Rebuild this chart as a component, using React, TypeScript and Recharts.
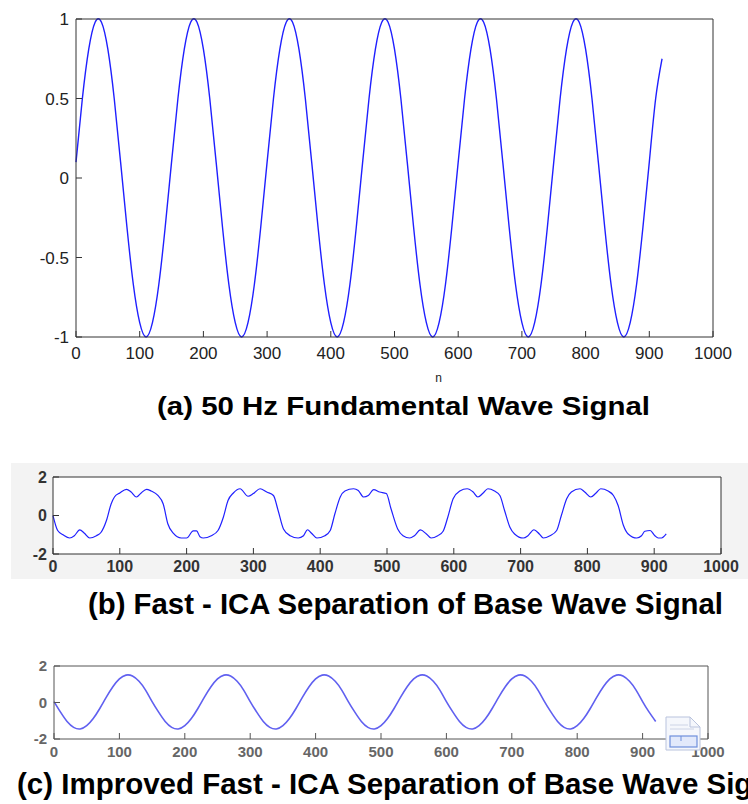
import React from 'react';
import { LineChart, Line, XAxis, YAxis, CartesianGrid } from 'recharts';

// sample index n used by panels (a) and (c)
const sampleN = [
  0, 10, 20, 30, 40, 50, 60, 70, 80, 90, 100, 110, 120, 130, 140, 150, 160, 170, 180, 190,
  200, 210, 220, 230, 240, 250, 260, 270, 280, 290, 300, 310, 320, 330, 340, 350, 360, 370, 380, 390,
  400, 410, 420, 430, 440, 450, 460, 470, 480, 490, 500, 510, 520, 530, 540, 550, 560, 570, 580, 590,
  600, 610, 620, 630, 640, 650, 660, 670, 680, 690, 700, 710, 720, 730, 740, 750, 760, 770, 780, 790,
  800, 810, 820, 830, 840, 850, 860, 870, 880, 890, 900, 910, 920,
];

// (a) 50 Hz fundamental
const fundamental = [
  0.1, 0.5, 0.81, 0.98, 0.98, 0.81, 0.5, 0.1, -0.31, -0.67, -0.91, -1, -0.91, -0.67, -0.31,
  0.1, 0.5, 0.81, 0.98, 0.98, 0.81, 0.5, 0.1, -0.31, -0.67, -0.91, -1, -0.91, -0.67, -0.31,
  0.1, 0.5, 0.81, 0.98, 0.98, 0.81, 0.5, 0.1, -0.31, -0.67, -0.91, -1, -0.91, -0.67, -0.31,
  0.1, 0.5, 0.81, 0.98, 0.98, 0.81, 0.5, 0.1, -0.31, -0.67, -0.91, -1, -0.91, -0.67, -0.31,
  0.1, 0.5, 0.81, 0.98, 0.98, 0.81, 0.5, 0.1, -0.31, -0.67, -0.91, -1, -0.91, -0.67, -0.31,
  0.1, 0.5, 0.81, 0.98, 0.98, 0.81, 0.5, 0.1, -0.31, -0.67, -0.91, -1, -0.91, -0.67, -0.31,
  0.1, 0.5, 0.75,
];

// (b) Fast-ICA separated base wave (irregular sample points)
const fastN = [
  0, 7, 15, 25, 32, 40, 47, 55, 65, 72, 80, 87, 92, 100, 110, 117, 125, 132, 140, 147,
  157, 165, 172, 180, 192, 200, 210, 215, 220, 225, 237, 247, 255, 262, 270, 280, 292, 300, 310, 320,
  330, 337, 345, 355, 367, 375, 381, 387, 395, 407, 415, 422, 430, 437, 450, 457, 465, 472, 480, 489,
  499, 506, 516, 524, 534, 541, 550, 559, 566, 576, 584, 591, 599, 609, 620, 629, 636, 644, 651, 661,
  669, 676, 684, 691, 704, 711, 720, 728, 734, 744, 754, 761, 769, 776, 789, 796, 805, 813, 820, 831,
  839, 846, 854, 861, 874, 881, 886, 894, 901, 906, 911, 918,
];
const fastVal = [
  0, -0.78, -1.0, -1.17, -1.05, -0.75, -0.92, -1.17, -1.05, -0.87, -0.26, 0.6, 0.96, 1.17, 1.36, 1.22, 0.96, 1.17, 1.36, 1.27,
  1.04, 0.6, -0.44, -0.92, -1.17, -1.17, -0.8, -0.8, -1.1, -1.17, -1.05, -0.78, -0.09, 0.78, 1.17, 1.39, 1.0, 1.14, 1.39, 1.22,
  1.04, 0.26, -0.7, -1.05, -1.17, -1.05, -0.74, -0.92, -1.17, -1.05, -0.78, 0.09, 0.96, 1.27, 1.39, 1.3, 0.96, 1.04, 1.34, 1.22,
  1.14, 0.35, -0.7, -1.05, -1.17, -1.05, -0.75, -0.96, -1.17, -1.05, -0.82, -0.09, 0.87, 1.27, 1.39, 1.22, 0.96, 1.17, 1.39, 1.27,
  1.04, 0.26, -0.61, -0.96, -1.17, -1.05, -0.74, -0.96, -1.17, -1.05, -0.78, 0, 0.87, 1.22, 1.39, 1.22, 0.96, 1.17, 1.39, 1.27,
  1.04, 0.52, -0.52, -0.96, -1.17, -1.05, -0.82, -0.78, -1.05, -1.17, -1.17, -0.96,
];

// (c) improved Fast-ICA
const improved = [
  0.05, -0.53, -1.04, -1.36, -1.45, -1.27, -0.88, -0.33, 0.29, 0.86, 1.29, 1.5, 1.45, 1.16, 0.68,
  0.05, -0.53, -1.04, -1.36, -1.45, -1.27, -0.88, -0.33, 0.29, 0.86, 1.29, 1.5, 1.45, 1.16, 0.68,
  0.05, -0.53, -1.04, -1.36, -1.45, -1.27, -0.88, -0.33, 0.29, 0.86, 1.29, 1.5, 1.45, 1.16, 0.68,
  0.05, -0.53, -1.04, -1.36, -1.45, -1.27, -0.88, -0.33, 0.29, 0.86, 1.29, 1.5, 1.45, 1.16, 0.68,
  0.05, -0.53, -1.04, -1.36, -1.45, -1.27, -0.88, -0.33, 0.29, 0.86, 1.29, 1.5, 1.45, 1.16, 0.68,
  0.05, -0.53, -1.04, -1.36, -1.45, -1.27, -0.88, -0.33, 0.29, 0.86, 1.29, 1.5, 1.45, 1.16, 0.68,
  0.05, -0.53, -1.04,
];

const nTicks = [0, 100, 200, 300, 400, 500, 600, 700, 800, 900, 1000];
const yTicksA = [-1, -0.5, 0, 0.5, 1];
const yTicksBC = [-2, 0, 2];

const titleA = '(a) 50 Hz Fundamental Wave Signal';
const titleB = '(b) Fast - ICA Separation of Base Wave Signal';
const titleC = '(c) Improved Fast - ICA Separation of Base Wave Signal';

const FONT = '"Liberation Sans", Arial, Helvetica, sans-serif';

const dataA = sampleN.map((n, i) => ({ n, v: fundamental[i] }));
const dataB = fastN.map((n, i) => ({ n, v: fastVal[i] }));
const dataC = sampleN.map((n, i) => ({ n, v: improved[i] }));

interface PanelProps {
  data: { n: number; v: number }[];
  width: number;
  height: number;
  top: number;
  leftW: number;
  rightW: number;
  xAxisH: number;
  bottom: number;
  yDomain: [number, number];
  yTicks: number[];
  color: string;
  strokeWidth: number;
  curve: 'natural' | 'monotone' | 'linear';
  frame: string;
  tickColor: string;
  tickSize: number;
  tickWeight: string | number;
  xTickMargin: number;
  yTickMargin: number;
  plotFill?: string;
}

// MATLAB-like boxed axes: ticks point inward on all four sides
const WavePanel = ({
  data, width, height, top, leftW, rightW, xAxisH, bottom, yDomain, yTicks,
  color, strokeWidth, curve, frame, tickColor, tickSize, tickWeight,
  xTickMargin, yTickMargin, plotFill,
}: PanelProps) => {
  const tickStyle = { fontSize: tickSize, fill: tickColor, fontFamily: FONT, fontWeight: tickWeight };
  const lineStyle = { stroke: frame, strokeWidth: 1 };
  return (
    <LineChart width={width} height={height} data={data} margin={{ top: top - 1, right: 0, bottom, left: 0 }}>
      {plotFill && <CartesianGrid horizontal={false} vertical={false} fill={plotFill} fillOpacity={1} />}
      <XAxis
        dataKey="n" type="number" domain={[0, 1000]} ticks={nTicks} interval={0}
        tickSize={-6} tickMargin={xTickMargin} height={xAxisH}
        axisLine={lineStyle} tickLine={lineStyle} tick={tickStyle}
      />
      <XAxis
        xAxisId="top" orientation="top" dataKey="n" type="number" domain={[0, 1000]}
        ticks={nTicks} interval={0} tickSize={-6} height={1} tick={false}
        axisLine={lineStyle} tickLine={lineStyle}
      />
      <YAxis
        type="number" domain={yDomain} ticks={yTicks} interval={0}
        tickSize={-6} tickMargin={yTickMargin} width={leftW}
        axisLine={lineStyle} tickLine={lineStyle} tick={tickStyle}
      />
      <YAxis
        yAxisId="right" orientation="right" type="number" domain={yDomain} ticks={yTicks}
        interval={0} tickSize={-6} width={rightW} tick={false}
        axisLine={lineStyle} tickLine={lineStyle}
      />
      <Line
        dataKey="v" type={curve} stroke={color} strokeWidth={strokeWidth}
        dot={false} activeDot={false} isAnimationActive={false}
      />
    </LineChart>
  );
};

export default function App() {
  return (
    <div style={{ position: 'absolute', left: 0, top: 0, width: 748, height: 804, background: '#fff', overflow: 'hidden' }}>
      <div style={{ position: 'absolute', left: 0, top: 0 }}>
        <WavePanel
          data={dataA} width={748} height={400} top={19} leftW={76} rightW={35}
          xAxisH={30} bottom={33} yDomain={[-1, 1]} yTicks={yTicksA}
          color="#1f1fff" strokeWidth={1.4} curve="natural" frame="#333"
          tickColor="#222" tickSize={17} tickWeight="normal" xTickMargin={16} yTickMargin={13}
        />
      </div>

      <div style={{ position: 'absolute', left: 11, top: 463, width: 737, height: 116, background: '#f3f3f3' }} />
      <div style={{ position: 'absolute', left: 0, top: 463 }}>
        <WavePanel
          data={dataB} width={748} height={116} top={14} leftW={53} rightW={27}
          xAxisH={25} bottom={0} yDomain={[-2, 2]} yTicks={yTicksBC}
          color="#2020ff" strokeWidth={1.2} curve="monotone" frame="#333"
          tickColor="#333" tickSize={16} tickWeight="bold" xTickMargin={13} yTickMargin={12}
          plotFill="#ffffff"
        />
      </div>

      <div style={{ position: 'absolute', left: 0, top: 650 }}>
        <WavePanel
          data={dataC} width={748} height={110} top={16} leftW={54} rightW={40}
          xAxisH={21} bottom={0} yDomain={[-2, 2]} yTicks={yTicksBC}
          color="#6060f0" strokeWidth={1.6} curve="natural" frame="#555"
          tickColor="#666" tickSize={15} tickWeight="bold" xTickMargin={13} yTickMargin={13}
        />
      </div>

      <svg width={748} height={804} style={{ position: 'absolute', left: 0, top: 0, pointerEvents: 'none' }}>
        <text x={438.5} y={382} textAnchor="middle" fontFamily={FONT} fontSize={12} fill="#222">n</text>
        <text x={157} y={415} fontFamily={FONT} fontSize={25} fontWeight="bold" fill="#000"
          textLength={493} lengthAdjust="spacingAndGlyphs">{titleA}</text>
        <text x={88} y={614} fontFamily={FONT} fontSize={29} fontWeight="bold" fill="#000"
          textLength={635} lengthAdjust="spacingAndGlyphs">{titleB}</text>
        <text x={17} y={794} fontFamily={FONT} fontSize={30} fontWeight="bold" fill="#000"
          textLength={778} lengthAdjust="spacingAndGlyphs">{titleC}</text>
        <g>
          <path d="M666 717 H690 L700 727 V750 H666 Z" fill="#f5f7fc" stroke="#b9c3dd" strokeWidth={1} />
          <path d="M690 717 V727 H700" fill="none" stroke="#b9c3dd" strokeWidth={1} />
          <line x1={670} y1={725} x2={688} y2={725} stroke="#cdd4e6" />
          <line x1={670} y1={729} x2={694} y2={729} stroke="#cdd4e6" />
          <rect x={670} y={736} width={27} height={11} fill="#e2e9fb" stroke="#6f8fdc" strokeWidth={1.2} />
          <line x1={681} y1={736} x2={681} y2={741} stroke="#6f8fdc" />
        </g>
      </svg>
    </div>
  );
}
